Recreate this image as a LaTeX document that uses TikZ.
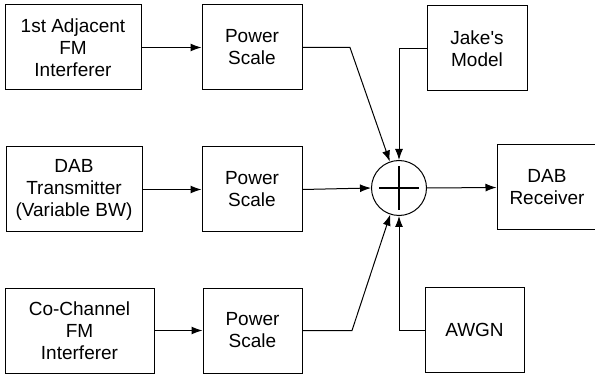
\documentclass[tikz,border=0pt]{standalone}
\usepackage{fontspec}
\setmainfont{Liberation Sans}
\usetikzlibrary{arrows.meta}
\begin{document}
\begin{tikzpicture}[x=1pt, y=-1pt, line width=1pt,
    every node/.style={font=\fontsize{19}{22}\selectfont, align=center, inner sep=0pt},
    block/.style={draw, rectangle, minimum height=85pt},
    arr/.style={-{Latex[length=11pt,width=8pt]}}]
    \useasboundingbox (0,0) rectangle (595,377);
    % sources
    \node[block, minimum width=136pt] (adj) at (73,47.5) {1st Adjacent\\FM\\Interferer};
    \node[block, minimum width=136pt] (dabtx) at (74,189.5) {DAB\\Transmitter\\(Variable BW)};
    \node[block, minimum width=149pt] (cochan) at (79.5,330.5) {Co-Channel\\FM\\Interferer};
    % power scaling
    \node[block, minimum width=100pt] (scaleA) at (252,47.5) {Power\\Scale};
    \node[block, minimum width=100pt] (scaleB) at (252,189.5) {Power\\Scale};
    \node[block, minimum width=99pt] (scaleC) at (252.5,330.5) {Power\\Scale};
    % channel
    \node[block, minimum width=100pt] (jakes) at (477,48.5) {Jake\textquotesingle s\\Model};
    \node[block, minimum width=99pt] (awgn) at (474.5,330) {AWGN};
    \node[draw, circle, minimum size=55pt] (sum) at (399,188) {};
    \draw[line width=1.3pt] (sum.center) ++(-20,0) -- ++(40,0);
    \draw[line width=1.3pt] (sum.center) ++(0,-22) -- ++(0,44);
    \node[block, minimum width=100pt] (dabrx) at (547,187.5) {DAB\\Receiver};
    \coordinate (bendA) at (350,47.5);
    \coordinate (bendC) at (352,330.5);

    \draw[arr] (adj) -- (scaleA);
    \draw[arr] (dabtx) -- (scaleB);
    \draw[arr] (cochan) -- (scaleC);
    \draw[arr] (scaleA.east) -- (bendA) -- (sum);
    \draw[arr] (scaleB.east) -- (sum.west);
    \draw[arr] (scaleC.east) -- (bendC) -- (sum);
    \draw[arr] (jakes.west) -| (sum.north);
    \draw[arr] (awgn.west) -| (sum.south);
    \draw[arr] (sum.east) -- (dabrx.west);
\end{tikzpicture}
\end{document}
